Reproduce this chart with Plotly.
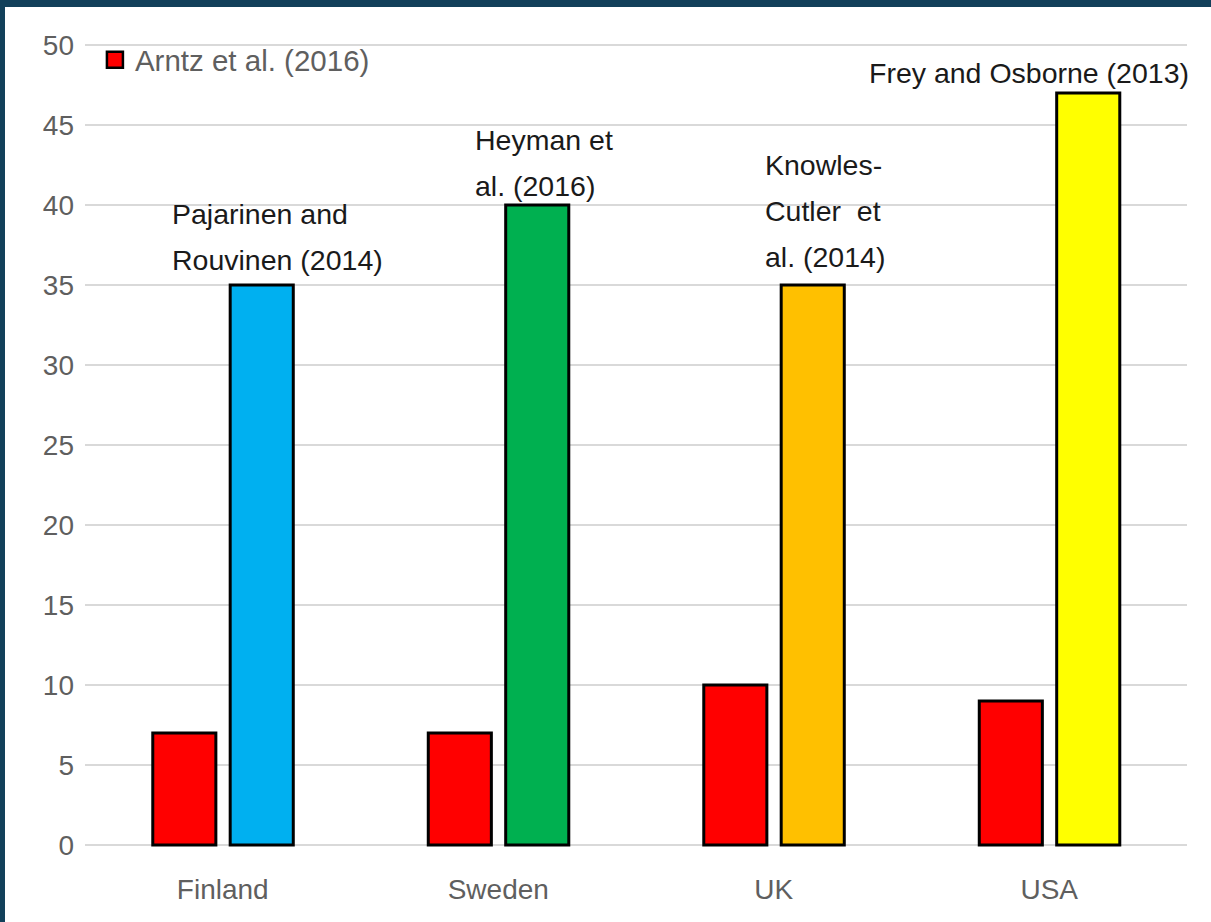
import plotly.graph_objects as go

countries = ["Finland", "Sweden", "UK", "USA"]
arntz = [7, 7, 10, 9]
national = [35, 40, 35, 47]
national_colors = ["#00b0f0", "#00b050", "#ffc000", "#ffff00"]
study_labels = [["Pajarinen and", "Rouvinen (2014)"],
                ["Heyman et", "al. (2016)"],
                ["Knowles-", "Cutler  et", "al. (2014)"],
                ["Frey and Osborne (2013)"]]
label_x = [-0.191, 0.908, 1.961, 2.338]
label_y = [39.44, 44.06, 42.5, 48.25]
yticks = [0, 5, 10, 15, 20, 25, 30, 35, 40, 45, 50]

xs = list(range(len(countries)))

fig = go.Figure()
fig.add_trace(go.Bar(
    x=xs, y=arntz, name="Arntz et al. (2016)", showlegend=False,
    marker=dict(color="#ff0000", line=dict(color="black", width=3)),
    width=0.229, offset=-0.254,
))
fig.add_trace(go.Bar(
    x=xs, y=national, name="National studies", showlegend=False,
    marker=dict(color=national_colors, line=dict(color="black", width=3)),
    width=0.229, offset=0.027,
))
# legend entry with a larger square swatch
fig.add_trace(go.Scatter(
    x=[None], y=[None], mode="markers", name="Arntz et al. (2016)",
    marker=dict(symbol="square", size=20, color="#ff0000", line=dict(color="black", width=2.5)),
    showlegend=True,
))

for lx, ly, lines in zip(label_x, label_y, study_labels):
    for i, t in enumerate(lines):
        fig.add_annotation(x=lx, y=ly, xref="x", yref="y", text=t, showarrow=False,
                           font=dict(family="Liberation Sans", size=28.5, color="#1a1a1a"),
                           align="left", xanchor="left", yanchor="middle",
                           yshift=-46 * i)

tick_font = dict(family="Liberation Sans", size=28, color="#5f5f5f")
fig.update_layout(
    width=1211, height=922,
    margin=dict(l=85, r=24, t=43, b=75),
    paper_bgcolor="white", plot_bgcolor="white",
    barmode="overlay",
    showlegend=True,
    legend=dict(x=0.009, y=1 - 17 / 804, xanchor="left", yanchor="middle",
                font=dict(family="Liberation Sans", size=29.5, color="#5f5f5f"),
                bgcolor="rgba(0,0,0,0)", itemsizing="trace"),
    xaxis=dict(tickmode="array", tickvals=xs, ticktext=countries, range=[-0.5, 3.5],
               showgrid=False, zeroline=False, showline=False, tickfont=tick_font,
               ticks="", ticklabelstandoff=23),
    yaxis=dict(range=[-0.125, 50.125], tickvals=yticks, showgrid=True, gridcolor="#d9d9d9",
               gridwidth=2, zeroline=False, showline=False, tickfont=tick_font,
               ticks="", ticklabelstandoff=10),
)

# dark frame edges (top and left)
fig.add_shape(type="rect", xref="paper", yref="paper", x0=-85/1102, x1=1.1, y0=1+36/804, y1=1+44/804,
              fillcolor="#12405a", line_width=0, layer="above")
fig.add_shape(type="rect", xref="paper", yref="paper", x0=-86/1102, x1=-80/1102, y0=-0.2, y1=1.1,
              fillcolor="#12405a", line_width=0, layer="above")

fig.write_html("out.html", config={"displayModeBar": False},
               post_script="document.body.style.margin='0';")
